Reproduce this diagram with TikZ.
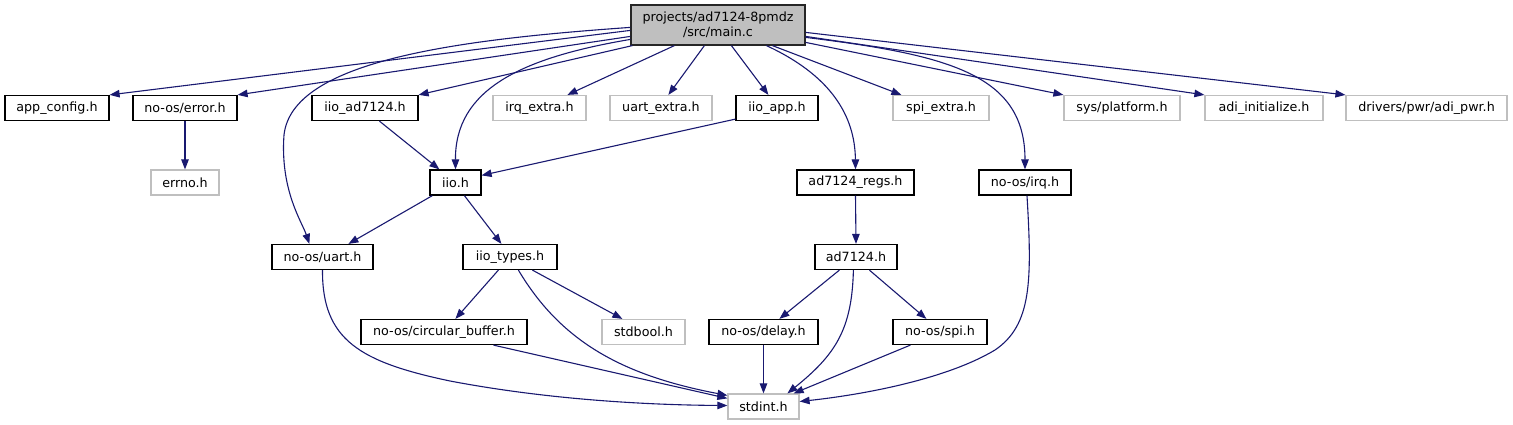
\documentclass[tikz,border=0pt]{standalone}
\usepackage{fontspec}
\setmainfont{DejaVu Sans}
\usetikzlibrary{arrows.meta,calc}
\definecolor{edgeblue}{HTML}{191970}
\definecolor{undoc}{HTML}{BFBFBF}
\definecolor{mainfill}{HTML}{BFBFBF}
\begin{document}
\begin{tikzpicture}[x=1pt,y=-1pt,
  box/.style={draw=black, line width=1.2pt, minimum height=25pt, inner sep=0pt,
    font=\fontsize{12.7}{15}\selectfont, text=black},
  gbox/.style={box, draw=undoc},
  mainbox/.style={box, fill=mainfill, draw=black!85, minimum height=40pt, align=center},
  dep/.style={draw=edgeblue, line width=1.1pt, -{Triangle[length=10pt,width=7.5pt]}}
]
\useasboundingbox (0,0) rectangle (1513,425);
% nodes
\node[mainbox, minimum width=174pt] (main) at (718,25) {projects/ad7124-8pmdz\\/src/main.c};
\node[box,  minimum width=104pt] (app)    at (57,108)    {app\_config.h};
\node[box,  minimum width=104pt] (err)    at (185,108)   {no-os/error.h};
\node[box,  minimum width=106pt] (iioad)  at (365,108)   {iio\_ad7124.h};
\node[gbox, minimum width=93pt]  (irqx)   at (539.5,108) {irq\_extra.h};
\node[gbox, minimum width=102pt] (uartx)  at (661,108)   {uart\_extra.h};
\node[box,  minimum width=82pt]  (iioapp) at (777,108)   {iio\_app.h};
\node[gbox, minimum width=96pt]  (spix)   at (941,108)   {spi\_extra.h};
\node[gbox, minimum width=116pt] (plat)   at (1122,108)  {sys/platform.h};
\node[gbox, minimum width=118pt] (adiini) at (1264,108)  {adi\_initialize.h};
\node[gbox, minimum width=161pt] (adipwr) at (1426.5,108){drivers/pwr/adi\_pwr.h};
\node[gbox, minimum width=68pt]  (errno)  at (185,182.5) {errno.h};
\node[box,  minimum width=51pt]  (iio)    at (455.5,182.5) {iio.h};
\node[box,  minimum width=117pt] (regs)   at (855.5,182.5) {ad7124\_regs.h};
\node[box,  minimum width=92pt]  (irq)    at (1025,182.5) {no-os/irq.h};
\node[box,  minimum width=101pt] (uart)   at (322.5,257) {no-os/uart.h};
\node[box,  minimum width=94pt]  (types)  at (510,257)   {iio\_types.h};
\node[box,  minimum width=82pt]  (ad)     at (856,257)   {ad7124.h};
\node[box,  minimum width=166pt] (circ)   at (444,332)   {no-os/circular\_buffer.h};
\node[gbox, minimum width=83pt]  (sbool)  at (643.5,332) {stdbool.h};
\node[box,  minimum width=109pt] (delay)  at (763.5,332) {no-os/delay.h};
\node[box,  minimum width=94pt]  (spi)    at (940,332)   {no-os/spi.h};
\node[gbox, minimum width=71pt]  (sint)   at (763.5,406.5) {stdint.h};
% edges from main
\draw[dep] ($(main.north west)+(0,26)$) -- (app.north east);
\draw[dep] ($(main.north west)+(0,32)$) -- (err.north east);
\draw[dep] ($(main.south west)+(2,0)$) -- (iioad.north east);
\draw[dep] ($(main.north west)+(0,23)$) .. controls (450,40) and (292,62) .. (284,135)
   .. controls (280,190) and (302,222) .. ($(uart.north west)+(38,0)$);
\draw[dep] ($(main.north west)+(0,35)$) .. controls (520,58) and (455,90) .. (iio.north);
\draw[dep] ($(main.south west)+(44,0)$) -- ($(irqx.north west)+(75,0)$);
\draw[dep] ($(main.south west)+(74,0)$) -- ($(uartx.north west)+(59,0)$);
\draw[dep] ($(main.south west)+(101,0)$) -- ($(iioapp.north west)+(33,0)$);
\draw[dep] ($(main.south west)+(136,0)$) .. controls (830,75) and (855,115) .. (regs.north);
\draw[dep] ($(main.south west)+(142,0)$) -- ($(spix.north west)+(9,0)$);
\draw[dep] ($(main.north east)+(0,33)$) .. controls (950,55) and (1025,75) .. (irq.north);
\draw[dep] ($(main.north east)+(0,38)$) -- (plat.north west);
\draw[dep] ($(main.north east)+(0,32)$) -- (adiini.north west);
\draw[dep] ($(main.north east)+(0,28)$) -- (adipwr.north west);
% second level
\draw[dep] (err.south) -- (errno.north);
\draw[dep] ($(iioad.south west)+(68,0)$) -- ($(iio.north west)+(10,0)$);
\draw[dep] ($(iioapp.south west)+(0,-2)$) -- ($(iio.north east)+(0,6)$);
\draw[dep] ($(iio.south west)+(3,0)$) -- ($(uart.north west)+(77,0)$);
\draw[dep] ($(iio.south west)+(35,0)$) -- ($(types.north west)+(39,0)$);
\draw[dep] (regs.south) -- (ad.north);
\draw[dep] ($(irq.south)+(2,0)$) .. controls (1032,280) and (1032,325) .. (995,350)
   .. controls (945,380) and (860,395) .. ($(sint.east)+(0,-5)$);
% third level
\draw[dep] (uart.south) .. controls (322,340) and (360,362) .. (450,381)
   .. controls (550,400) and (650,405) .. ($(sint.west)+(0,-1)$);
\draw[dep] ($(types.south west)+(36,0)$) -- ($(circ.north west)+(95,0)$);
\draw[dep] ($(types.south west)+(70,0)$) -- ($(sbool.north west)+(21,0)$);
\draw[dep] ($(types.south west)+(56,0)$) .. controls (560,340) and (620,375) .. ($(sint.north west)+(0,2)$);
\draw[dep] ($(circ.south west)+(133,0)$) -- ($(sint.north west)+(0,5)$);
\draw[dep] ($(ad.south west)+(25,0)$) -- ($(delay.north west)+(71,0)$);
\draw[dep] ($(ad.south west)+(39,0)$) .. controls (852,330) and (835,355) .. ($(sint.north west)+(60,0)$);
\draw[dep] ($(ad.south west)+(55,0)$) -- ($(spi.north west)+(34,0)$);
\draw[dep] (delay.south) -- (sint.north);
\draw[dep] ($(spi.south west)+(18,0)$) -- ($(sint.north east)+(-6,0)$);
\end{tikzpicture}
\end{document}
